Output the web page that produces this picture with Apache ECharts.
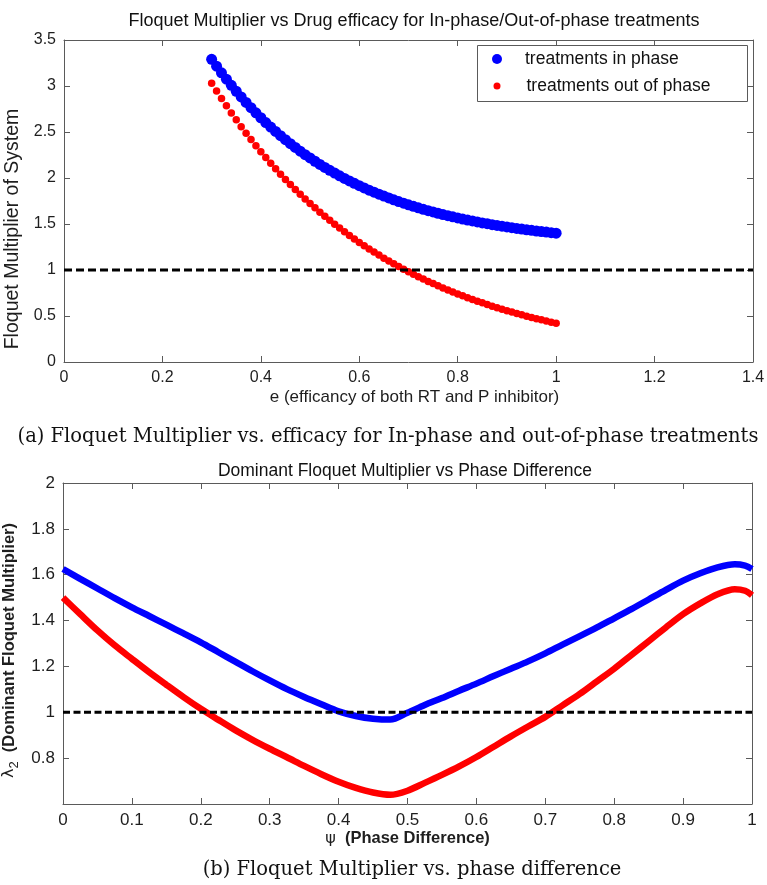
<!DOCTYPE html>
<html>
<head>
<meta charset="utf-8">
<title>Floquet Multiplier</title>
<script src="https://cdn.jsdelivr.net/npm/echarts@6/dist/echarts.min.js"></script>
<style>
  html, body { margin: 0; padding: 0; background: #fff; }
  #chart { width: 767px; height: 885px; }
</style>
</head>
<body>
<div id="chart"></div>
<script>
// Panel (a): Floquet multiplier against drug efficacy
const efficacy = [
  0.30, 0.31, 0.32, 0.33, 0.34, 0.35, 0.36, 0.37, 0.38, 0.39,
  0.40, 0.41, 0.42, 0.43, 0.44, 0.45, 0.46, 0.47, 0.48, 0.49,
  0.50, 0.51, 0.52, 0.53, 0.54, 0.55, 0.56, 0.57, 0.58, 0.59,
  0.60, 0.61, 0.62, 0.63, 0.64, 0.65, 0.66, 0.67, 0.68, 0.69,
  0.70, 0.71, 0.72, 0.73, 0.74, 0.75, 0.76, 0.77, 0.78, 0.79,
  0.80, 0.81, 0.82, 0.83, 0.84, 0.85, 0.86, 0.87, 0.88, 0.89,
  0.90, 0.91, 0.92, 0.93, 0.94, 0.95, 0.96, 0.97, 0.98, 0.99,
  1.00
];
const inPhase = [
  3.290, 3.215, 3.143, 3.074, 3.007, 2.943, 2.881, 2.821, 2.764, 2.708,
  2.655, 2.603, 2.554, 2.506, 2.460, 2.416, 2.373, 2.332, 2.292, 2.254,
  2.218, 2.182, 2.148, 2.115, 2.083, 2.053, 2.024, 1.995, 1.968, 1.942,
  1.916, 1.892, 1.868, 1.846, 1.824, 1.803, 1.783, 1.763, 1.744, 1.726,
  1.709, 1.692, 1.676, 1.660, 1.645, 1.631, 1.617, 1.603, 1.591, 1.578,
  1.566, 1.554, 1.543, 1.533, 1.522, 1.512, 1.503, 1.493, 1.485, 1.476,
  1.468, 1.460, 1.452, 1.445, 1.437, 1.431, 1.424, 1.418, 1.412, 1.406,
  1.400
];
const outOfPhase = [
  3.030, 2.946, 2.864, 2.784, 2.707, 2.632, 2.558, 2.487, 2.418, 2.351,
  2.285, 2.222, 2.160, 2.100, 2.042, 1.985, 1.930, 1.876, 1.824, 1.773,
  1.724, 1.676, 1.629, 1.584, 1.540, 1.497, 1.456, 1.415, 1.376, 1.338,
  1.300, 1.264, 1.229, 1.195, 1.162, 1.129, 1.098, 1.067, 1.038, 1.009,
  0.981, 0.954, 0.927, 0.901, 0.876, 0.852, 0.828, 0.805, 0.783, 0.761,
  0.740, 0.719, 0.699, 0.680, 0.661, 0.643, 0.625, 0.607, 0.590, 0.574,
  0.558, 0.543, 0.527, 0.513, 0.498, 0.485, 0.471, 0.458, 0.445, 0.433,
  0.421
];

// Panel (b): dominant Floquet multiplier against phase difference
const phaseDiff = [
  0.000, 0.025, 0.050, 0.075, 0.100, 0.125, 0.150, 0.175, 0.200, 0.225,
  0.250, 0.275, 0.300, 0.325, 0.350, 0.375, 0.400, 0.425, 0.450, 0.475,
  0.500, 0.525, 0.550, 0.575, 0.600, 0.625, 0.650, 0.675, 0.700, 0.725,
  0.750, 0.775, 0.800, 0.825, 0.850, 0.875, 0.900, 0.925, 0.950, 0.975,
  0.990, 1.000
];
const dominantInPhase = [
  1.625, 1.582, 1.540, 1.498, 1.458, 1.420, 1.382, 1.344, 1.305, 1.263,
  1.221, 1.179, 1.139, 1.101, 1.067, 1.035, 1.004, 0.984, 0.972, 0.968,
  0.998, 1.032, 1.062, 1.094, 1.125, 1.158, 1.190, 1.222, 1.257, 1.295,
  1.332, 1.370, 1.410, 1.450, 1.492, 1.534, 1.574, 1.606, 1.632, 1.646,
  1.640, 1.625
];
const dominantOutOfPhase = [
  1.500, 1.428, 1.357, 1.292, 1.233, 1.175, 1.120, 1.066, 1.015, 0.968,
  0.922, 0.880, 0.841, 0.804, 0.766, 0.730, 0.697, 0.670, 0.650, 0.640,
  0.658, 0.692, 0.727, 0.764, 0.805, 0.850, 0.895, 0.938, 0.980, 1.030,
  1.080, 1.135, 1.190, 1.250, 1.310, 1.370, 1.428, 1.475, 1.515, 1.537,
  1.530, 1.510
];

// Axis ranges and the stability threshold
const effRange = [0, 1.4];
const effTickStep = 0.2;
const multRange = [0, 3.5];
const multTickStep = 0.5;
const phaseRange = [0, 1];
const phaseTickStep = 0.1;
const domRange = [0.6, 2];
const domTickStep = 0.2;
const unityLevel = 1;

const SANS = "'Liberation Sans', Arial, Helvetica, sans-serif";
const SERIF = "'DejaVu Serif', 'Liberation Serif', serif";
const AXIS_GRAY = '#5a5a5a';
const TEXT_DARK = '#1e1e1e';

const pairs = (xs, ys) => xs.map((x, i) => [x, ys[i]]);
const fmt = v => String(+v.toFixed(2));

function makeAxis(opts) {
  const base = {
    type: 'value',
    gridIndex: opts.grid,
    min: opts.range[0],
    max: opts.range[1],
    interval: opts.step,
    position: opts.position,
    axisLine: { show: true, onZero: false, lineStyle: { color: AXIS_GRAY, width: 1 } },
    axisTick: { show: true, inside: true, length: 6, lineStyle: { color: AXIS_GRAY, width: 1 } },
    splitLine: { show: false },
    axisLabel: {
      show: !!opts.labels,
      color: TEXT_DARK,
      fontFamily: SANS,
      fontSize: opts.fontSize || 16,
      margin: opts.margin || 8,
      formatter: opts.formatter || fmt,
      showMinLabel: true,
      showMaxLabel: true
    }
  };
  if (opts.name) {
    base.name = opts.name;
    base.nameLocation = 'middle';
    base.nameGap = opts.nameGap;
    base.nameRotate = opts.nameRotate;
    base.nameTextStyle = opts.nameTextStyle;
  }
  return base;
}

const chart = echarts.init(document.getElementById('chart'), null, { renderer: 'canvas' });

const option = {
  animation: false,
  backgroundColor: '#ffffff',
  title: [
    {
      text: 'Floquet Multiplier vs Drug efficacy for In-phase/Out-of-phase treatments',
      left: 409, top: 7, textAlign: 'center',
      textStyle: { fontFamily: SANS, fontSize: 18, fontWeight: 'normal', color: '#111' }
    },
    {
      text: 'Dominant Floquet Multiplier vs Phase Difference',
      left: 400, top: 457, textAlign: 'center',
      textStyle: { fontFamily: SANS, fontSize: 17.5, fontWeight: 'normal', color: '#111' }
    },
    {
      text: '(a) Floquet Multiplier vs. efficacy for In-phase and out-of-phase treatments',
      left: 383, top: 422, textAlign: 'center',
      textStyle: { fontFamily: SERIF, fontSize: 19.5, fontWeight: 'normal', color: '#111' }
    },
    {
      text: '(b) Floquet Multiplier vs. phase difference',
      left: 407, top: 855, textAlign: 'center',
      textStyle: { fontFamily: SERIF, fontSize: 19.5, fontWeight: 'normal', color: '#111' }
    }
  ],
  grid: [
    { left: 64, top: 40, width: 689, height: 322, containLabel: false, outerBoundsMode: 'none' },
    { left: 63, top: 483, width: 689, height: 321, containLabel: false, outerBoundsMode: 'none' }
  ],
  xAxis: [
    makeAxis({
      grid: 0, range: effRange, step: effTickStep, position: 'bottom', labels: true,
      name: 'e (efficancy of both RT and P inhibitor)', nameGap: 27,
      nameTextStyle: { fontFamily: SANS, fontSize: 17, color: TEXT_DARK, padding: [0, 0, 0, 12] }
    }),
    makeAxis({ grid: 0, range: effRange, step: effTickStep, position: 'top', labels: false }),
    makeAxis({
      grid: 1, range: phaseRange, step: phaseTickStep, position: 'bottom', labels: true, fontSize: 17,
      name: '{g|ψ}  {b|(Phase Difference)}', nameGap: 17,
      nameTextStyle: {
        fontFamily: SANS, fontSize: 16.5, color: TEXT_DARK,
        rich: {
          g: { fontFamily: "'DejaVu Sans', sans-serif", fontSize: 16, color: TEXT_DARK },
          b: { fontFamily: SANS, fontSize: 16.5, fontWeight: 'bold', color: TEXT_DARK }
        }
      }
    }),
    makeAxis({ grid: 1, range: phaseRange, step: phaseTickStep, position: 'top', labels: false })
  ],
  yAxis: [
    makeAxis({
      grid: 0, range: multRange, step: multTickStep, position: 'left', labels: true,
      name: 'Floquet Multiplier of System', nameGap: 38, nameRotate: 90,
      nameTextStyle: { fontFamily: SANS, fontSize: 19.5, color: TEXT_DARK, padding: [0, 56, 0, 0] }
    }),
    makeAxis({ grid: 0, range: multRange, step: multTickStep, position: 'right', labels: false }),
    makeAxis({
      grid: 1, range: domRange, step: domTickStep, position: 'left', labels: true, fontSize: 17,
      formatter: v => (Math.abs(v - domRange[0]) < 1e-9 ? '' : fmt(v)),
      name: '{l|λ}{s|2}  {b|(Dominant Floquet Multiplier)}', nameGap: 32, nameRotate: 90,
      nameTextStyle: {
        fontFamily: SANS, fontSize: 16.5, color: TEXT_DARK, padding: [0, 14, 0, 0],
        rich: {
          l: { fontFamily: "'DejaVu Sans', sans-serif", fontSize: 16, color: TEXT_DARK },
          s: { fontFamily: SANS, fontSize: 13, color: TEXT_DARK, padding: [10, 0, 0, 0] },
          b: { fontFamily: SANS, fontSize: 16.5, fontWeight: 'bold', color: TEXT_DARK }
        }
      }
    }),
    makeAxis({ grid: 1, range: domRange, step: domTickStep, position: 'right', labels: false })
  ],
  legend: [
    {
      data: ['treatments in phase'],
      left: 492, top: 50, padding: 0,
      icon: 'circle', itemWidth: 10, itemHeight: 10,
      textStyle: { fontFamily: SANS, fontSize: 17.5, color: '#111', padding: [0, 0, 0, 18] },
      z: 10
    },
    {
      data: ['treatments out of phase'],
      left: 493.5, top: 77, padding: 0,
      icon: 'circle', itemWidth: 7, itemHeight: 7,
      textStyle: { fontFamily: SANS, fontSize: 17.5, color: '#111', padding: [0, 0, 0, 21] },
      z: 10
    }
  ],
  graphic: [
    {
      type: 'rect', z: 5,
      shape: { x: 477.5, y: 45.5, width: 270, height: 56 },
      style: { fill: '#ffffff', stroke: AXIS_GRAY, lineWidth: 1 }
    }
  ],
  series: [
    {
      name: 'treatments in phase', type: 'scatter',
      xAxisIndex: 0, yAxisIndex: 0,
      data: pairs(efficacy, inPhase),
      symbol: 'circle', symbolSize: 11,
      itemStyle: { color: '#0000ff', opacity: 1 },
      z: 2
    },
    {
      name: 'treatments out of phase', type: 'scatter',
      xAxisIndex: 0, yAxisIndex: 0,
      data: pairs(efficacy, outOfPhase),
      symbol: 'circle', symbolSize: 7.5,
      itemStyle: { color: '#ff0000', opacity: 1 },
      z: 3
    },
    {
      name: 'unity (a)', type: 'line',
      xAxisIndex: 0, yAxisIndex: 0,
      data: effRange.map(x => [x, unityLevel]),
      symbol: 'none', silent: true,
      lineStyle: { color: '#000', width: 3, type: [8, 4] },
      z: 4
    },
    {
      name: 'dominant in phase', type: 'line',
      xAxisIndex: 2, yAxisIndex: 2,
      data: pairs(phaseDiff, dominantInPhase),
      symbol: 'none', smooth: 0.3,
      lineStyle: { color: '#0000ff', width: 6.5, join: 'round' },
      z: 2
    },
    {
      name: 'dominant out of phase', type: 'line',
      xAxisIndex: 2, yAxisIndex: 2,
      data: pairs(phaseDiff, dominantOutOfPhase),
      symbol: 'none', smooth: 0.3,
      lineStyle: { color: '#ff0000', width: 6.5, join: 'round' },
      z: 2
    },
    {
      name: 'unity (b)', type: 'line',
      xAxisIndex: 2, yAxisIndex: 2,
      data: phaseRange.map(x => [x, unityLevel]),
      symbol: 'none', silent: true,
      lineStyle: { color: '#000', width: 3, type: [7, 3.5] },
      z: 4
    }
  ]
};

chart.setOption(option);
</script>
</body>
</html>
